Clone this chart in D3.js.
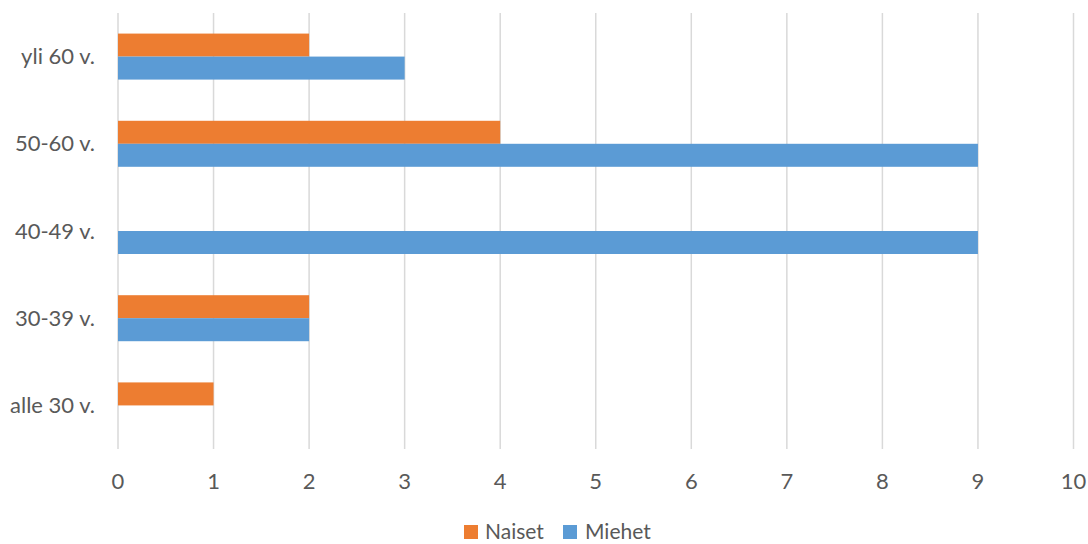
<!DOCTYPE html>
<html>
<head>
<meta charset="utf-8">
<script src="https://cdn.jsdelivr.net/npm/d3@7"></script>
<style>
  html, body { margin: 0; padding: 0; background: #fff; }
  svg { display: block; font-family: Lato, "Open Sans", sans-serif; }
</style>
</head>
<body>
<svg id="chart" width="1088" height="544"></svg>
<script>
// Age groups, top to bottom
const categories = ["yli 60 v.", "50-60 v.", "40-49 v.", "30-39 v.", "alle 30 v."];
const seriesNames = ["Naiset", "Miehet"];
const naiset = [2, 4, 0, 2, 1];
const miehet = [3, 9, 9, 2, 0];
const xTicks = [0, 1, 2, 3, 4, 5, 6, 7, 8, 9, 10];

const colors = { Naiset: "#ED7D31", Miehet: "#5B9BD5" };
const values = { Naiset: naiset, Miehet: miehet };

const svg = d3.select("#chart");
const plot = { left: 118, right: 1073.5, top: 13, bottom: 449 };

const x = d3.scaleLinear().domain([0, 10]).range([plot.left, plot.right]);
const y = d3.scaleBand().domain(categories).range([plot.top, plot.bottom]).paddingInner(0.4725).paddingOuter(0.236);
const inner = d3.scaleBand().domain(seriesNames).range([0, y.bandwidth()]);

// vertical gridlines
svg.append("g")
  .selectAll("line")
  .data(xTicks)
  .join("line")
  .attr("x1", d => x(d)).attr("x2", d => x(d))
  .attr("y1", plot.top).attr("y2", plot.bottom)
  .attr("stroke", "#d9d9d9")
  .attr("stroke-width", 1.5);

// bars
const groups = svg.append("g")
  .selectAll("g")
  .data(categories)
  .join("g")
  .attr("transform", d => `translate(0,${y(d)})`);

groups.selectAll("rect")
  .data((c, i) => seriesNames.map(s => ({ s, v: values[s][i] })))
  .join("rect")
  .attr("x", x(0))
  .attr("y", d => inner(d.s))
  .attr("width", d => x(d.v) - x(0))
  .attr("height", inner.bandwidth())
  .attr("fill", d => colors[d.s]);

// category labels
svg.append("g")
  .selectAll("text")
  .data(categories)
  .join("text")
  .attr("x", 95)
  .attr("y", d => y(d) + y.bandwidth() / 2)
  .attr("dy", "0.35em")
  .attr("text-anchor", "end")
  .attr("font-size", 22)
  .attr("fill", "#595959")
  .text(d => d);

// x tick labels
svg.append("g")
  .selectAll("text")
  .data(xTicks)
  .join("text")
  .attr("x", d => x(d))
  .attr("y", 489)
  .attr("text-anchor", "middle")
  .attr("font-size", 22)
  .attr("fill", "#595959")
  .text(d => d);

// legend
const legendItems = [
  { name: "Naiset", sx: 464, tx: 485 },
  { name: "Miehet", sx: 563, tx: 585 }
];
const lg = svg.append("g");
lg.selectAll("rect")
  .data(legendItems)
  .join("rect")
  .attr("x", d => d.sx).attr("y", 525)
  .attr("width", 14).attr("height", 14)
  .attr("fill", d => colors[d.name]);
lg.selectAll("text")
  .data(legendItems)
  .join("text")
  .attr("x", d => d.tx).attr("y", 539)
  .attr("font-size", 21)
  .attr("fill", "#595959")
  .text(d => d.name);
</script>
</body>
</html>
